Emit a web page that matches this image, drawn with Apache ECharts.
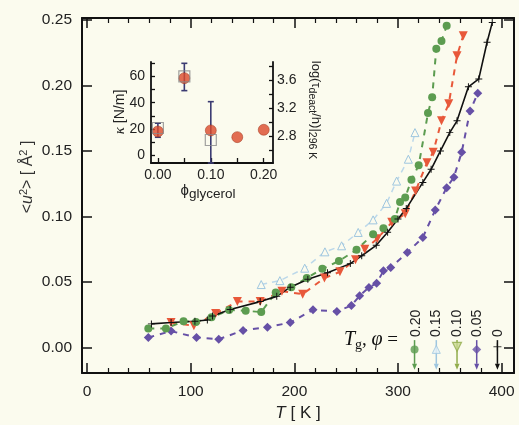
<!DOCTYPE html>
<html><head><meta charset="utf-8">
<script src="https://cdn.jsdelivr.net/npm/echarts@6/dist/echarts.min.js"></script>
<style>html,body{margin:0;padding:0;background:#fbfbee;}#c{width:519px;height:425px;}</style>
</head><body><div id="c"></div>
<script>
// ---------- main panel data ----------
const T_phi020 = [59, 76, 93, 105, 120, 137, 153, 168, 182, 197, 212, 227, 243, 260, 276, 286, 297, 302, 307, 313, 320, 329, 333, 337, 342, 347];
const u2_phi020 = [0.0145, 0.0145, 0.020, 0.0195, 0.023, 0.0285, 0.028, 0.027, 0.042, 0.046, 0.053, 0.060, 0.066, 0.0745, 0.0865, 0.091, 0.098, 0.111, 0.1145, 0.128, 0.139, 0.179, 0.191, 0.228, 0.234, 0.2455];
const T_phi015 = [168, 186, 210, 229.5, 245.6, 261.6, 276, 289, 298.7, 310, 316.4];
const u2_phi015 = [0.048, 0.051, 0.0605, 0.073, 0.0776, 0.0878, 0.0974, 0.110, 0.127, 0.1437, 0.164];
const T_phi010 = [81, 103, 124, 145, 167, 188, 208, 229, 244, 259, 268, 280, 294, 307, 317, 328, 334, 342, 349, 357, 363];
const u2_phi010 = [0.019, 0.0165, 0.026, 0.035, 0.035, 0.043, 0.0407, 0.053, 0.0577, 0.067, 0.075, 0.083, 0.0955, 0.102, 0.1195, 0.141, 0.149, 0.173, 0.186, 0.2227, 0.238];
const T_phi005 = [59, 81, 105.5, 127, 150.5, 174, 196, 218, 241, 255, 263, 272, 279.4, 286, 293, 309, 324, 336, 347, 354, 361.5, 369.6, 377];
const u2_phi005 = [0.0076, 0.0125, 0.0076, 0.0063, 0.013, 0.0155, 0.019, 0.0287, 0.0275, 0.032, 0.0395, 0.0458, 0.049, 0.0585, 0.061, 0.0725, 0.084, 0.105, 0.122, 0.130, 0.149, 0.1806, 0.194];
const T_phi000 = [62, 81, 104, 116, 121, 138, 167, 183, 196, 213, 232, 254, 265, 279, 290, 300, 308, 324, 332, 341, 350, 357, 368, 378, 386, 391];
const u2_phi000 = [0.018, 0.019, 0.020, 0.021, 0.024, 0.029, 0.035, 0.039, 0.046, 0.052, 0.057, 0.064, 0.070, 0.078, 0.088, 0.098, 0.106, 0.126, 0.136, 0.150, 0.164, 0.173, 0.199, 0.205, 0.233, 0.248];
// glass transition temperatures (arrows on the T axis) and legend labels
const phiLabels = ['0.20', '0.15', '0.10', '0.05', '0'];
const Tg = [316, 337, 357, 376, 396];
// tick labels
const xTicks = [0, 100, 200, 300, 400];
const yTicks = [0, 0.05, 0.10, 0.15, 0.20, 0.25];
// ---------- inset data ----------
const phiGly = [0, 0.05, 0.10, 0.15, 0.20];
const kappa = [18.1, 58.7, 18.9, 13.8, 19.4];
const phiTau = [0, 0.05, 0.10];
const logTau = [2.92, 3.65, 2.75];
const errLow = [13.7, 49.2, -5.9];
const errHigh = [24.4, 70, 40.8];
const insetXTicks = [0, 0.10, 0.20];
const insetYTicks = [0, 20, 40, 60];
const insetY2Ticks = [2.8, 3.2, 3.6];

const zip = (a, b) => a.map((v, i) => [v, b[i]]);
const GREEN = '#5c9c50', LBLUE = '#9ec6df', RED = '#e8583a', PURPLE = '#6650a6', BLACK = '#111', OLIVE = '#92ad4c';
const FONT = 'Liberation Sans';
const PLUS = 'path://M0,4.3 L10,4.3 L10,5.7 L0,5.7 Z M4.3,0 L5.7,0 L5.7,10 L4.3,10 Z';

const minorX = []; for (let v = 0; v <= 400; v += 20) if (v % 100) minorX.push(v);
const baseX = {type: 'value', min: -5, max: 412, gridIndex: 0, splitLine: {show: false}};
const baseY = {type: 'value', min: -0.0195, max: 0.2515, gridIndex: 0, splitLine: {show: false}};
const axLine = {show: true, onZero: false, lineStyle: {color: BLACK, width: 2}};
const noLine = {show: false, onZero: false};

const chart = echarts.init(document.getElementById('c'), null, {renderer: 'canvas'});
const option = {
  animation: false,
  backgroundColor: '#fbfbee',
  textStyle: {fontFamily: FONT},
  grid: [
    {left: 82, right: 5, top: 18, bottom: 52},
    {left: 151, right: 246, top: 62, bottom: 262}
  ],
  xAxis: [
    Object.assign({}, baseX, {position: 'bottom', axisLine: axLine,
      axisTick: {inside: true, length: 10, customValues: xTicks, lineStyle: {color: BLACK, width: 1.5}},
      axisLabel: {customValues: xTicks, fontSize: 15.5, color: '#222', margin: 11}}),
    Object.assign({}, baseX, {position: 'bottom', axisLine: noLine,
      axisTick: {inside: true, length: 5, customValues: minorX, lineStyle: {color: BLACK, width: 1.2}},
      axisLabel: {show: false}}),
    Object.assign({}, baseX, {position: 'top', axisLine: axLine,
      axisTick: {inside: true, length: 10, customValues: xTicks, lineStyle: {color: BLACK, width: 1.5}},
      axisLabel: {show: false}}),
    Object.assign({}, baseX, {position: 'top', axisLine: noLine,
      axisTick: {inside: true, length: 5, customValues: minorX, lineStyle: {color: BLACK, width: 1.2}},
      axisLabel: {show: false}}),
    {type: 'value', gridIndex: 1, min: -0.013, max: 0.2175, position: 'bottom', splitLine: {show: false},
      axisLine: {show: true, onZero: false, lineStyle: {color: BLACK, width: 1.8}},
      axisTick: {inside: true, length: 5, customValues: [0, 0.05, 0.10, 0.15, 0.20], lineStyle: {color: BLACK, width: 1.3}},
      axisLabel: {customValues: insetXTicks, formatter: v => v.toFixed(2), fontSize: 14, color: '#222', margin: 5}}
  ],
  yAxis: [
    Object.assign({}, baseY, {position: 'left', axisLine: axLine,
      axisTick: {inside: true, length: 10, customValues: yTicks, lineStyle: {color: BLACK, width: 1.5}},
      axisLabel: {customValues: yTicks, formatter: v => v.toFixed(2), fontSize: 15.5, color: '#222', margin: 10}}),
    Object.assign({}, baseY, {position: 'right', axisLine: axLine,
      axisTick: {inside: true, length: 10, customValues: yTicks, lineStyle: {color: BLACK, width: 1.5}},
      axisLabel: {show: false}}),
    {type: 'value', gridIndex: 1, min: -5.9, max: 71, position: 'left', splitLine: {show: false},
      axisLine: {show: true, onZero: false, lineStyle: {color: BLACK, width: 1.8}},
      axisTick: {inside: true, length: 4, customValues: [0, 10, 20, 30, 40, 50, 60, 70], lineStyle: {color: BLACK, width: 1.3}},
      axisLabel: {customValues: insetYTicks, fontSize: 14, color: '#222', margin: 6}},
    {type: 'value', gridIndex: 1, min: 2.424, max: 3.855, position: 'right', splitLine: {show: false},
      axisLine: {show: true, onZero: false, lineStyle: {color: BLACK, width: 1.8}},
      axisTick: {inside: true, length: 4, customValues: [2.6, 2.8, 3.0, 3.2, 3.4, 3.6, 3.8], lineStyle: {color: BLACK, width: 1.3}},
      axisLabel: {customValues: insetY2Ticks, formatter: v => v.toFixed(1), fontSize: 14, color: '#222', margin: 4}}
  ],
  series: [
    {name: '0.15', type: 'line', xAxisIndex: 0, yAxisIndex: 0, data: zip(T_phi015, u2_phi015),
      symbol: 'triangle', symbolSize: 8,
      itemStyle: {color: '#fbfbee', borderColor: LBLUE, borderWidth: 1},
      lineStyle: {color: '#bcd8ea', width: 1.5, type: [6, 5]}},
    {name: '0.05', type: 'line', xAxisIndex: 0, yAxisIndex: 0, data: zip(T_phi005, u2_phi005),
      symbol: 'diamond', symbolSize: 9, itemStyle: {color: PURPLE},
      lineStyle: {color: PURPLE, width: 2, type: [6, 6]}},
    {name: '0.10', type: 'line', xAxisIndex: 0, yAxisIndex: 0, data: zip(T_phi010, u2_phi010),
      symbol: 'triangle', symbolRotate: 180, symbolSize: 9, itemStyle: {color: RED},
      lineStyle: {color: RED, width: 2, type: [6, 6]}},
    {name: '0.20', type: 'line', xAxisIndex: 0, yAxisIndex: 0, data: zip(T_phi020, u2_phi020),
      symbol: 'circle', symbolSize: 8, itemStyle: {color: GREEN},
      lineStyle: {color: GREEN, width: 2, type: [6, 6]}},
    {name: '0', type: 'line', xAxisIndex: 0, yAxisIndex: 0, data: zip(T_phi000, u2_phi000),
      symbol: PLUS, symbolSize: 7, itemStyle: {color: BLACK},
      lineStyle: {color: BLACK, width: 1.6}},
    // Tg arrows
    {type: 'custom', xAxisIndex: 0, yAxisIndex: 0, data: Tg.map((t, i) => [t, i]),
      renderItem: (params, api) => {
        const cols = [GREEN, LBLUE, OLIVE, PURPLE, BLACK];
        const c = cols[api.value(1)];
        const p1 = api.coord([api.value(0), 0.0056]);
        const p2 = api.coord([api.value(0), -0.0125]);
        return {type: 'group', children: [
          {type: 'line', shape: {x1: p1[0], y1: p1[1], x2: p2[0], y2: p2[1]}, style: {stroke: c, lineWidth: 1.5}},
          {type: 'polygon', shape: {points: [[p2[0] - 2.5, p2[1]], [p2[0] + 2.5, p2[1]], [p2[0], p2[1] + 6]]}, style: {fill: c}}
        ]};
      }},
    {type: 'scatter', xAxisIndex: 0, yAxisIndex: 0,
      data: [
        {value: [Tg[0], -0.0015], symbol: 'circle', symbolSize: 8, itemStyle: {color: GREEN}},
        {value: [Tg[1], -0.0015], symbol: 'triangle', symbolSize: 8, itemStyle: {color: '#e4f0f6', borderColor: LBLUE, borderWidth: 1}},
        {value: [Tg[2], 0.0005], symbol: 'triangle', symbolRotate: 180, symbolSize: 9, itemStyle: {color: '#c9d890', borderColor: OLIVE, borderWidth: 1.2}},
        {value: [Tg[3], -0.0015], symbol: 'diamond', symbolSize: 9, itemStyle: {color: PURPLE}},
        {value: [Tg[4], 0.0005], symbol: PLUS, symbolSize: 8, itemStyle: {color: BLACK}}
      ]},
    // inset
    {type: 'scatter', xAxisIndex: 4, yAxisIndex: 2, data: zip(phiGly, kappa), symbol: 'circle', symbolSize: 11,
      itemStyle: {color: '#dc4a2a', borderColor: '#9a3018', borderWidth: 0.6}},
    {type: 'scatter', xAxisIndex: 4, yAxisIndex: 3, data: zip(phiTau, logTau), symbol: 'rect', symbolSize: 11,
      itemStyle: {color: 'rgba(255,255,255,0)', borderColor: '#8a8a8a', borderWidth: 1.2}},
    {type: 'custom', xAxisIndex: 4, yAxisIndex: 2, data: phiTau.map((p, i) => [p, errLow[i], errHigh[i]]),
      renderItem: (params, api) => {
        const lo = api.coord([api.value(0), api.value(1)]);
        const hi = api.coord([api.value(0), api.value(2)]);
        const st = {stroke: '#3b3b72', lineWidth: 1.6};
        return {type: 'group', children: [
          {type: 'line', shape: {x1: lo[0], y1: lo[1], x2: hi[0], y2: hi[1]}, style: st},
          {type: 'line', shape: {x1: hi[0] - 3, y1: hi[1], x2: hi[0] + 3, y2: hi[1]}, style: st},
          {type: 'line', shape: {x1: lo[0] - 3, y1: lo[1], x2: lo[0] + 3, y2: lo[1]}, style: st}
        ]};
      }}
  ],
  graphic: [
    {type: 'text', x: 28, y: 177, rotation: Math.PI / 2,
      style: {text: '<{i|u}{sup|2}> [ Å{sup|2} ]', align: 'center', verticalAlign: 'middle', fill: '#333',
        font: '16px "Liberation Sans"',
        rich: {i: {fontStyle: 'italic', fontSize: 16, lineHeight: 20, verticalAlign: 'middle', fontFamily: FONT},
               sup: {fontSize: 11, lineHeight: 20, verticalAlign: 'top', fontFamily: FONT}}}},
    {type: 'text', x: 298, y: 413,
      style: {text: '{i|T} [ K ]', align: 'center', verticalAlign: 'middle', fill: '#222', font: '17px "Liberation Sans"',
        rich: {i: {fontStyle: 'italic', fontSize: 17, fontFamily: FONT}}}},
    {type: 'text', x: 120, y: 112, rotation: Math.PI / 2,
      style: {text: '{i|κ} [N/m]', align: 'center', verticalAlign: 'middle', fill: '#222', font: '14px "Liberation Sans"',
        rich: {i: {fontStyle: 'italic', fontSize: 15, fontFamily: 'Liberation Serif'}}}},
    {type: 'text', x: 208, y: 191,
      style: {text: '{p|ϕ}{s|glycerol}', align: 'center', verticalAlign: 'middle', fill: '#222', font: '14px "Liberation Sans"',
        rich: {p: {fontSize: 15, lineHeight: 20, verticalAlign: 'middle', fontFamily: FONT},
               s: {fontSize: 13.5, lineHeight: 20, verticalAlign: 'bottom', fontFamily: FONT}}}},
    {type: 'text', x: 316, y: 110, rotation: -Math.PI / 2,
      style: {text: 'log(τ{s|deact}/h)|{s|296 K}', align: 'center', verticalAlign: 'middle', fill: '#222', font: '13px "Liberation Sans"',
        rich: {s: {fontSize: 10.5, lineHeight: 20, verticalAlign: 'bottom', fontFamily: FONT}}}},
    {type: 'text', x: 371, y: 340,
      style: {text: '{i|T}{s|g}, {i|φ} =', align: 'center', verticalAlign: 'middle', fill: '#111', font: '19px "Liberation Serif"',
        rich: {i: {fontStyle: 'italic', fontSize: 20, lineHeight: 24, verticalAlign: 'middle', fontFamily: 'Liberation Serif'},
               s: {fontSize: 14, lineHeight: 24, verticalAlign: 'bottom', fontFamily: 'Liberation Serif'}}}},
  ].concat(phiLabels.map((t, i) => ({type: 'text', x: [416, 436.5, 457, 477, 498][i], y: 337, rotation: Math.PI / 2,
      style: {text: t, align: 'left', verticalAlign: 'middle', fill: '#222', font: '14px "Liberation Sans"'}})))
};
chart.setOption(option);
</script></body></html>
